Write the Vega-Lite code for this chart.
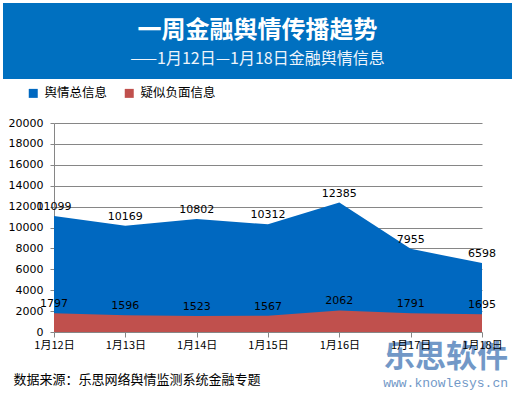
{
  "$schema": "https://vega.github.io/schema/vega-lite/v6.json",
  "background": "white",
  "padding": {"left": 3, "top": 3, "right": 3, "bottom": 3},
  "spacing": 8,
  "columns": 1,
  "align": "none",
  "resolve": {"scale": {"color": "independent"}, "legend": {"color": "independent"}},
  "config": {"view": {"stroke": null}, "font": "Noto Sans CJK SC"},
  "datasets": {
    "main": [
      {"date": "1月12日", "series": "舆情总信息", "value": 11099},
      {"date": "1月13日", "series": "舆情总信息", "value": 10169},
      {"date": "1月14日", "series": "舆情总信息", "value": 10802},
      {"date": "1月15日", "series": "舆情总信息", "value": 10312},
      {"date": "1月16日", "series": "舆情总信息", "value": 12385},
      {"date": "1月17日", "series": "舆情总信息", "value": 7955},
      {"date": "1月18日", "series": "舆情总信息", "value": 6598},
      {"date": "1月12日", "series": "疑似负面信息", "value": 1797},
      {"date": "1月13日", "series": "疑似负面信息", "value": 1596},
      {"date": "1月14日", "series": "疑似负面信息", "value": 1523},
      {"date": "1月15日", "series": "疑似负面信息", "value": 1567},
      {"date": "1月16日", "series": "疑似负面信息", "value": 2062},
      {"date": "1月17日", "series": "疑似负面信息", "value": 1791},
      {"date": "1月18日", "series": "疑似负面信息", "value": 1695}
    ],
    "mark": [
      {"date": "1月18日", "value": 0, "big": "乐思软件", "small": "www.knowlesys.cn"}
    ]
  },
  "concat": [
    {
      "width": 509,
      "height": 76,
      "view": {"fill": "#0070C0", "stroke": null},
      "data": {"values": [
        {"kind": "title", "text": "一周金融舆情传播趋势"},
        {"kind": "subtitle", "text": "——1月12日—1月18日金融舆情信息"}
      ]},
      "encoding": {
        "x": {"datum": 0.5, "type": "quantitative", "scale": {"domain": [0, 1]}, "axis": null},
        "y": {"field": "kind", "type": "nominal", "scale": {"type": "point", "padding": 0, "domain": ["title", "subtitle"], "range": [28, 56]}, "axis": null},
        "text": {"field": "text"}
      },
      "layer": [
        {
          "transform": [{"filter": "datum.kind === 'title'"}],
          "mark": {"type": "text", "font": "Noto Sans CJK SC", "fontSize": 24, "fontWeight": "bold", "color": "white", "align": "center", "baseline": "middle"}
        },
        {
          "transform": [{"filter": "datum.kind === 'subtitle'"}],
          "mark": {"type": "text", "font": "Noto Sans CJK SC", "fontSize": 16, "color": "#EEF4FB", "align": "center", "baseline": "middle"}
        }
      ]
    },
    {
      "width": 479,
      "height": 209,
      "encoding": {
        "x": {
          "field": "date", "type": "ordinal", "sort": null,
          "scale": {"type": "point", "padding": 0, "range": [51, 479]},
          "axis": {
            "zindex": 1,
            "labelAngle": 0, "labelFont": "Noto Sans CJK SC", "labelFontSize": 11, "labelColor": "#000000",
            "labelPadding": 2, "tickSize": 5, "tickColor": "#868686", "domain": false,
            "title": "数据来源：乐思网络舆情监测系统金融专题",
            "titleFont": "Noto Sans CJK SC", "titleFontSize": 13, "titleFontWeight": "normal", "titleColor": "#000000",
            "titleAnchor": "start", "titleAlign": "left", "titleX": 10, "titleY": 47, "titleBaseline": "middle"
          }
        },
        "y": {
          "field": "value", "type": "quantitative",
          "scale": {"domain": [0, 20000], "nice": false},
          "axis": {
            "values": [0, 2000, 4000, 6000, 8000, 10000, 12000, 14000, 16000, 18000, 20000],
            "format": "d", "offset": -51,
            "title": null, "grid": true, "gridColor": "#868686", "gridWidth": 1,
            "domainColor": "#868686", "tickColor": "#868686", "tickSize": 4,
            "labelFont": "DejaVu Sans", "labelFontSize": 11, "labelColor": "#000000", "labelPadding": 7
          }
        }
      },
      "layer": [
        {
          "data": {"name": "main"},
          "transform": [{"filter": "datum.series === '舆情总信息'"}],
          "mark": {"type": "area", "opacity": 1},
          "encoding": {
            "color": {
              "field": "series", "type": "nominal",
              "scale": {"domain": ["舆情总信息", "疑似负面信息"], "range": ["#0068C0", "#C0504D"]},
              "legend": {
                "title": null, "orient": "none", "direction": "horizontal",
                "legendX": 24, "legendY": -36, "padding": 0,
                "symbolType": "square", "symbolSize": 81, "symbolStrokeWidth": 0,
                "labelFont": "Noto Sans CJK SC", "labelFontSize": 12.5, "labelColor": "#000000",
                "labelOffset": 5, "columnPadding": 15
              }
            },
            "y": {"field": "value", "type": "quantitative", "stack": null}
          }
        },
        {
          "data": {"name": "main"},
          "transform": [{"filter": "datum.series === '疑似负面信息'"}],
          "mark": {"type": "area", "opacity": 1},
          "encoding": {
            "color": {"field": "series", "type": "nominal"},
            "y": {"field": "value", "type": "quantitative", "stack": null}
          }
        },
        {
          "data": {"name": "main"},
          "mark": {"type": "text", "font": "DejaVu Sans", "fontSize": 11, "color": "#000000", "baseline": "middle", "dy": -9},
          "encoding": {
            "y": {"field": "value", "type": "quantitative", "stack": null},
            "text": {"field": "value", "type": "quantitative", "format": "d"},
            "xOffset": {"condition": [{"test": "datum.date === '1月12日'", "value": 8}, {"test": "datum.date === '1月18日'", "value": -4}], "value": 0}
          }
        },
        {
          "data": {"name": "mark"},
          "mark": {"type": "text", "font": "Noto Sans CJK SC", "fontSize": 31, "fontWeight": "bold", "color": "#4F7FBA", "opacity": 0.8, "align": "right", "baseline": "middle", "dx": 26, "dy": 26},
          "encoding": {
            "text": {"field": "big"}
          }
        },
        {
          "data": {"name": "mark"},
          "mark": {"type": "text", "font": "Liberation Mono", "fontSize": 13, "color": "#4F7FBA", "opacity": 0.8, "align": "right", "baseline": "middle", "dx": 26, "dy": 51},
          "encoding": {
            "text": {"field": "small"}
          }
        }
      ]
    }
  ]
}
